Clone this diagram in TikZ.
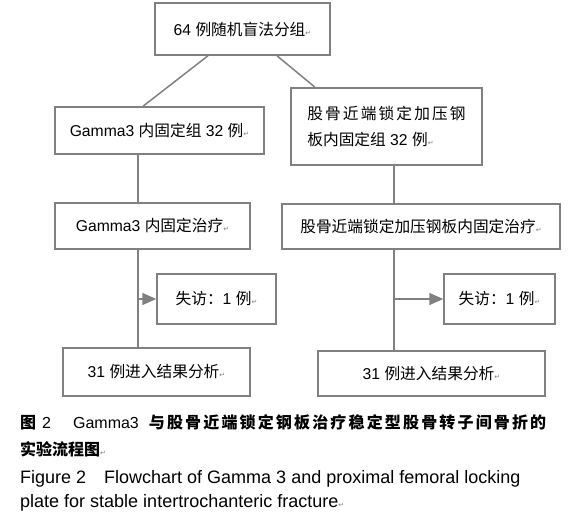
\documentclass[tikz,border=0pt]{standalone}
\usepackage{fontspec}
\setmainfont{Liberation Sans}
\newfontfamily\cjk{Noto Sans CJK SC}
\newfontfamily\cjkwide[LetterSpace=13.5]{Noto Sans CJK SC}
\newfontfamily\markfont{DejaVu Sans}
\usetikzlibrary{arrows.meta}
\definecolor{linegray}{RGB}{128,128,128}
\newcommand{\zh}[1]{{\cjk #1}}
\newcommand{\zhw}[1]{{\cjkwide #1}}
\newcommand{\zhb}[1]{{\cjk\bfseries #1}}
\newcommand{\zhbw}[1]{{\cjkwide\bfseries #1}}
\newcommand{\rt}{{\markfont\fontsize{7}{7}\selectfont\color{gray}↵}}

\begin{document}
\begin{tikzpicture}[
  x=1pt, y=-1pt,
  font=\fontsize{15.7}{26}\selectfont,
  box/.style={draw=linegray, line width=1.5pt, inner sep=0pt, align=left},
  link/.style={draw=linegray, line width=1.5pt},
  tip/.style={link, -{Triangle[length=14pt,width=12pt]}},
  capline/.style={anchor=base west, inner sep=0pt}
]
\useasboundingbox (0,0) rectangle (574,530);
\node[box, minimum width=175pt, minimum height=52pt] (rand) at (242.5,29) {64 \zh{例随机盲法分组}\rt};
\node[box, minimum width=209pt, minimum height=47pt] (gam) at (159.5,130.5) {Gamma3 \zh{内固定组} 32 \zh{例}\rt};
\node[box, minimum width=191pt, minimum height=77pt] (pfl) at (386.5,126.5) {\zhw{股骨近端锁定加压钢}\\\zh{板内固定组} 32 \zh{例}\rt};
\node[box, minimum width=195pt, minimum height=46pt] (gamtx) at (152.5,226) {Gamma3 \zh{内固定治疗}\rt};
\node[box, minimum width=278pt, minimum height=45pt] (pfltx) at (421,226.5) {\zh{股骨近端锁定加压钢板内固定治疗}\rt};
\node[box, minimum width=119pt, minimum height=50pt] (gamloss) at (216.5,299) {\zh{失访：}1 \zh{例}\rt};
\node[box, minimum width=111pt, minimum height=50pt] (pflloss) at (499.5,299) {\zh{失访：}1 \zh{例}\rt};
\node[box, minimum width=187pt, minimum height=48pt] (gamres) at (156.5,372) {31 \zh{例进入结果分析}\rt};
\node[box, minimum width=227pt, minimum height=45pt] (pflres) at (431.5,373.5) {31 \zh{例进入结果分析}\rt};

\coordinate (lx) at (138,0);
\coordinate (rx) at (394,0);
\draw[link] ([xshift=-34.5pt]rand.south) -- ([xshift=-16.5pt]gam.north);
\draw[link] ([xshift=34.5pt]rand.south) -- ([xshift=-71.5pt]pfl.north);
\draw[link] (gam.south -| lx) -- (gamtx.north -| lx);
\draw[link] (gamtx.south -| lx) -- (gamres.north -| lx);
\draw[tip] (lx |- gamloss.west) -- (gamloss.west);
\draw[link] (pfl.south -| rx) -- (pfltx.north -| rx);
\draw[link] (pfltx.south -| rx) -- (pflres.north -| rx);
\draw[tip] (rx |- pflloss.west) -- (pflloss.west);

\node[capline, font=\fontsize{16}{16}\selectfont] (cap1) at (20,428)
  {\zhb{图}\hspace{6pt}2\hspace{22pt}Gamma3\hspace{10pt}\zhbw{与股骨近端锁定钢板治疗稳定型股骨转子间骨折的}};
\node[capline, font=\fontsize{16}{16}\selectfont] (cap2) at (20,455) {\zhb{实验流程图}\rt};
\node[capline, font=\fontsize{18}{18}\selectfont] (cap3) at (20,483)
  {Figure 2\hspace{18pt}Flowchart of Gamma 3 and proximal femoral locking};
\node[capline, font=\fontsize{18}{18}\selectfont] (cap4) at (20,507) {plate for stable intertrochanteric fracture\rt};
\end{tikzpicture}
\end{document}
